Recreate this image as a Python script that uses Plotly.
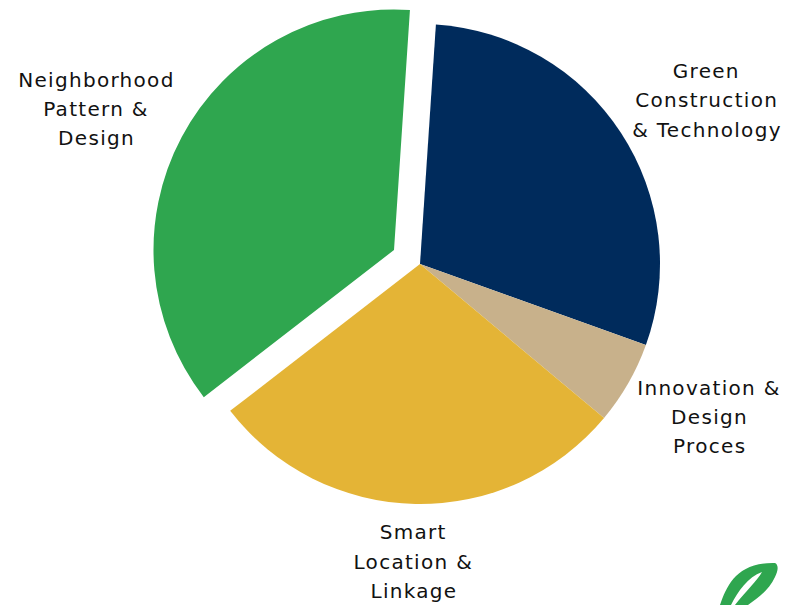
import plotly.graph_objects as go

W, H = 800, 605

categories = ["Green Construction & Technology", "Innovation & Design Proces",
              "Smart Location & Linkage", "Neighborhood Pattern & Design"]
shares = [29.4, 5.6, 28.4, 36.5]
colors = ["#002b5c", "#c8b18b", "#e4b436", "#2fa64f"]
label_lines = [
    ("Green", 706, 71), ("Construction", 706, 100), ("& Technology", 707, 130),
    ("Innovation &", 709, 388), ("Design", 709, 417), ("Proces", 709, 446),
    ("Smart", 414, 532), ("Location &", 414, 562), ("Linkage", 414, 591),
    ("Neighborhood", 96, 80), ("Pattern &", 96, 109), ("Design", 96, 138),
]

R = 240
ROT = 3.8


def domain(cx, cy, r):
    return dict(x=[(cx - r) / W, (cx + r) / W], y=[(H - cy - r) / H, (H - cy + r) / H])


def px(x, y):
    return f"{x / W:.5f},{(H - y) / H:.5f}"


fig = go.Figure()
# main pie: the last slice is drawn by the exploded trace below
fig.add_trace(go.Pie(labels=categories, values=shares, sort=False, direction="clockwise",
                     rotation=ROT, textinfo="none", showlegend=False,
                     domain=domain(420, 264, R),
                     marker=dict(colors=colors[:3] + ["rgba(0,0,0,0)"], line=dict(width=0))))
fig.add_trace(go.Pie(labels=categories, values=shares, sort=False, direction="clockwise",
                     rotation=ROT, textinfo="none", showlegend=False,
                     domain=domain(394, 250, 240.5),
                     marker=dict(colors=["rgba(0,0,0,0)"] * 3 + [colors[3]], line=dict(width=0))))

annotations = [
    dict(text=t, x=x / W, y=(H - y) / H, xref="paper", yref="paper", xanchor="center",
         yanchor="middle", showarrow=False,
         font=dict(family="DejaVu Sans, Verdana, sans-serif", size=20, color="#111111"))
    for t, x, y in label_lines
]

leaf = ("M " + px(720, 605) + " C " + px(727, 585) + " " + px(737, 562) + " " + px(775, 563)
        + " C " + px(779, 565) + " " + px(778, 571) + " " + px(775, 577)
        + " C " + px(769, 590) + " " + px(758, 598) + " " + px(748, 605) + " Z")
slit = ("M " + px(731, 605) + " C " + px(738, 591) + " " + px(748, 577) + " " + px(762, 572)
        + " C " + px(758, 580) + " " + px(744, 593) + " " + px(735, 605) + " Z")

fig.update_layout(
    width=W, height=H, margin=dict(l=0, r=0, t=0, b=0),
    paper_bgcolor="white", annotations=annotations,
    shapes=[
        dict(type="path", xref="paper", yref="paper", path=leaf, fillcolor="#2fa64f", line=dict(width=0)),
        dict(type="path", xref="paper", yref="paper", path=slit, fillcolor="white", line=dict(width=0)),
    ],
)
post = """
document.body.style.margin = '0';
document.querySelectorAll('.annotation-text').forEach(function (e) { e.style.letterSpacing = '1.3px'; });
"""
fig.write_html("out.html", post_script=post, config=dict(displayModeBar=False))
